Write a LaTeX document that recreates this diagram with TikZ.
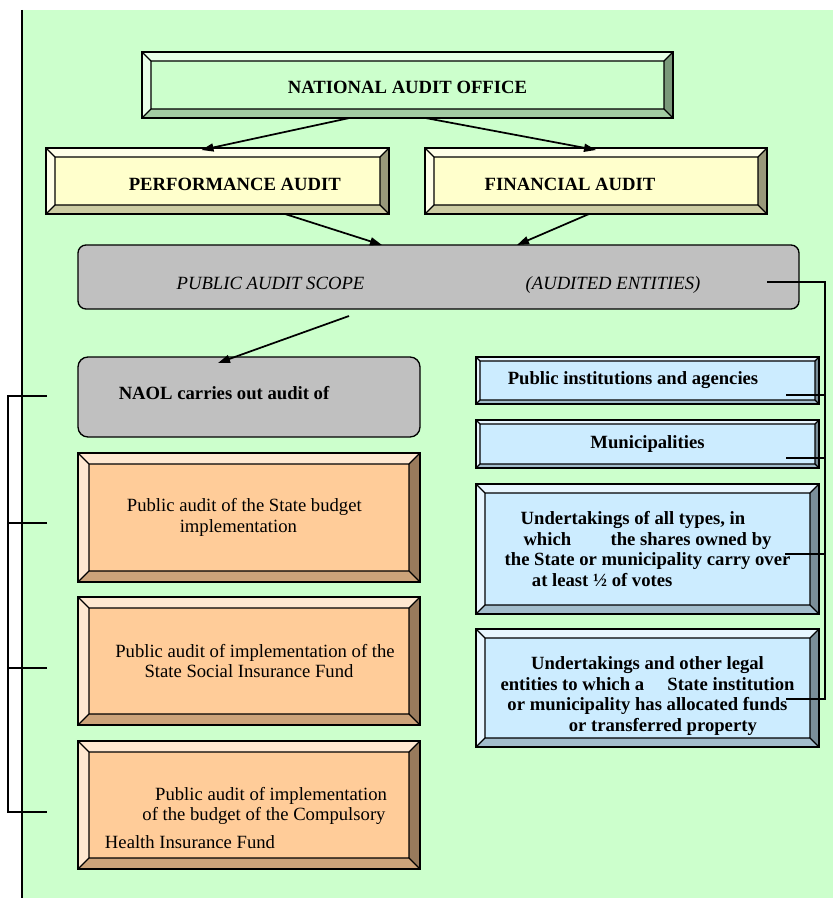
\documentclass[tikz,border=0pt]{standalone}
\usepackage{fontspec}
\setmainfont{Liberation Serif}
\usepackage{tikz}
\usetikzlibrary{arrows.meta,calc}
\definecolor{naogreen}{HTML}{CCFFCC}
\definecolor{audityellow}{HTML}{FFFFCC}
\definecolor{scopegrey}{HTML}{C0C0C0}
\definecolor{taskorange}{HTML}{FFCC99}
\definecolor{entityblue}{HTML}{CCECFF}
\newcommand{\boxfont}{\fontsize{14}{15.5}\selectfont}

\begin{document}
\begin{tikzpicture}[x=0.75pt, y=-0.75pt,
    every node/.style={font=\boxfont, inner sep=0pt, outer sep=0pt},
    bevel/.style 2 args={draw=black, line width=1pt, fill=#2,
        path picture={
            \path (path picture bounding box.south west) coordinate (pbl)
                  (path picture bounding box.north east) coordinate (ptr)
                  (pbl |- ptr) coordinate (ptl)
                  (pbl -| ptr) coordinate (pbr)
                  ($(pbl)+(#1,#1)$) coordinate (ibl)
                  ($(ptr)+(-#1,-#1)$) coordinate (itr)
                  (ibl |- itr) coordinate (itl)
                  (ibl -| itr) coordinate (ibr);
            \fill[#2!45!white] (pbl) -- (ptl) -- (ptr) -- (itr) -- (itl) -- (ibl) -- cycle;
            \fill[#2!80!black] (pbl) -- (pbr) -- (ibr) -- (ibl) -- cycle;
            \fill[#2!60!black] (pbr) -- (ptr) -- (itr) -- (ibr) -- cycle;
            \draw[line width=1pt] (ibl) rectangle (itr)
                (pbl) -- (ibl) (ptl) -- (itl) (ptr) -- (itr) (pbr) -- (ibr);
        }},
    roundbox/.style={draw=black, line width=1pt, fill=scopegrey, rounded corners=6pt},
    arr/.style={-{Triangle[length=9pt,width=6pt]}, line width=1.3pt},
    link/.style={line width=0.8pt}
]
    \useasboundingbox (0,0) rectangle (833,898);
    \fill[naogreen] (22,10) rectangle (833,898);
    \draw[link] (22,10) -- (22,898);

    \node[bevel={6.75pt}{naogreen}, minimum width=398.25pt, minimum height=49.5pt, font=\boxfont\bfseries] (nao) at (407.5,85) {\rule{0pt}{13pt}NATIONAL AUDIT OFFICE};
    \node[bevel={6.75pt}{audityellow}, minimum width=257.25pt, minimum height=49.5pt, font=\boxfont\bfseries] (perf) at (217.5,181) {\rule{0pt}{15pt}\hspace*{26pt}PERFORMANCE AUDIT};
    \node[bevel={6.75pt}{audityellow}, minimum width=256.5pt, minimum height=49.5pt, font=\boxfont\bfseries] (fin) at (596,181) {\rule{0pt}{15pt}FINANCIAL AUDIT\hspace*{39pt}};
    \node[roundbox, minimum width=540.75pt, minimum height=48pt, font=\boxfont\itshape] (scope) at (438.5,277) {\rule{0pt}{21pt}PUBLIC AUDIT SCOPE\hspace{121pt}(AUDITED ENTITIES)};

    % Left column
    \node[roundbox, rounded corners=7.5pt, minimum width=256.5pt, minimum height=60pt, font=\boxfont\bfseries] (naol) at (249,397) {NAOL carries out audit of\hspace*{37.5pt}\rule[-6pt]{0pt}{6pt}};
    \node[bevel={8.25pt}{taskorange}, minimum width=256.5pt, minimum height=96.75pt, align=center] (state) at (249,517.5) {Public audit of the State budget\hspace*{7pt}\\ implementation\hspace*{16pt}};
    \node[bevel={8.25pt}{taskorange}, minimum width=256.5pt, minimum height=96pt, align=center] (social) at (249,661) {\hspace*{9pt}Public audit of implementation of the\\ State Social Insurance Fund};
    \node[bevel={8.25pt}{taskorange}, minimum width=256.5pt, minimum height=96pt, align=center] (health) at (249,805) {\rule{0pt}{29pt}\hspace*{33pt}Public audit of implementation\\ \hspace*{22.5pt}of the budget of the Compulsory\\[5pt] Health Insurance Fund\hspace*{88.5pt}};

    % Right column
    \node[bevel={3pt}{entityblue}, minimum width=257.25pt, minimum height=35.25pt, font=\boxfont\bfseries] (inst) at (647.5,380.5) {Public institutions and agencies\hspace*{21.75pt}};
    \node[bevel={3pt}{entityblue}, minimum width=257.25pt, minimum height=36pt, font=\boxfont\bfseries] (muni) at (647.5,444) {Municipalities};
    \node[bevel={6.75pt}{entityblue}, minimum width=257.25pt, minimum height=97.5pt, font=\boxfont\bfseries, align=center] (shares) at (647.5,549) {Undertakings of all types, in\hspace*{21.75pt}\\ which\hspace{26pt} the shares owned by\\ the State or municipality carry over\hspace*{8pt}\\ at least ½ of votes\hspace*{68pt}};
    \node[bevel={6.75pt}{entityblue}, minimum width=257.25pt, minimum height=88.5pt, font=\boxfont\bfseries, align=center] (funds) at (647.5,688) {\rule{0pt}{22pt}Undertakings and other legal\\ entities to which a\hspace{14pt} State institution\\ or municipality has allocated funds\hspace*{11pt}\\ \hspace*{23pt}or transferred property};

    \draw[arr] ($(nao.south)+(-58,0)$) -- ($(perf.north)+(-16,2)$);
    \draw[arr] ($(nao.south)+(18,0)$) -- ($(fin.north)+(0,2)$);
    \draw[arr] ($(perf.south)+(67.5,0)$) -- ($(scope.north)+(-56.5,0)$);
    \draw[arr] ($(fin.south)+(-7,0)$) -- ($(scope.north)+(78.5,0)$);
    \draw[arr] ($(scope.south)+(-89.5,7)$) -- ($(naol.north)+(-31,6)$);

    % Brackets
    \coordinate (tnaol) at ($(naol.west)+(-31,-1)$);
    \coordinate (tstate) at ($(state.west)+(-31,5.5)$);
    \coordinate (tsocial) at ($(social.west)+(-31,7)$);
    \coordinate (thealth) at ($(health.west)+(-31,7)$);
    \draw[link] (tnaol) -- ++(-39,0) |- (thealth);
    \draw[link] (tstate) -- ++(-39,0);
    \draw[link] (tsocial) -- ++(-39,0);

    \coordinate (tscope) at ($(scope.east)+(-32,5)$);
    \coordinate (rail) at ($(tscope)+(58,0)$);
    \coordinate (tinst) at ($(inst.east)+(-33,14.5)$);
    \coordinate (tmuni) at ($(muni.east)+(-33,14)$);
    \coordinate (tshares) at ($(shares.east)+(-34,5)$);
    \coordinate (tfunds) at ($(funds.east)+(-33,11)$);
    \draw[link] (tscope) -- (rail) |- (tfunds);
    \draw[link] (tinst) -- (tinst -| rail);
    \draw[link] (tmuni) -- (tmuni -| rail);
    \draw[link] (tshares) -- (tshares -| rail);
\end{tikzpicture}
\end{document}
